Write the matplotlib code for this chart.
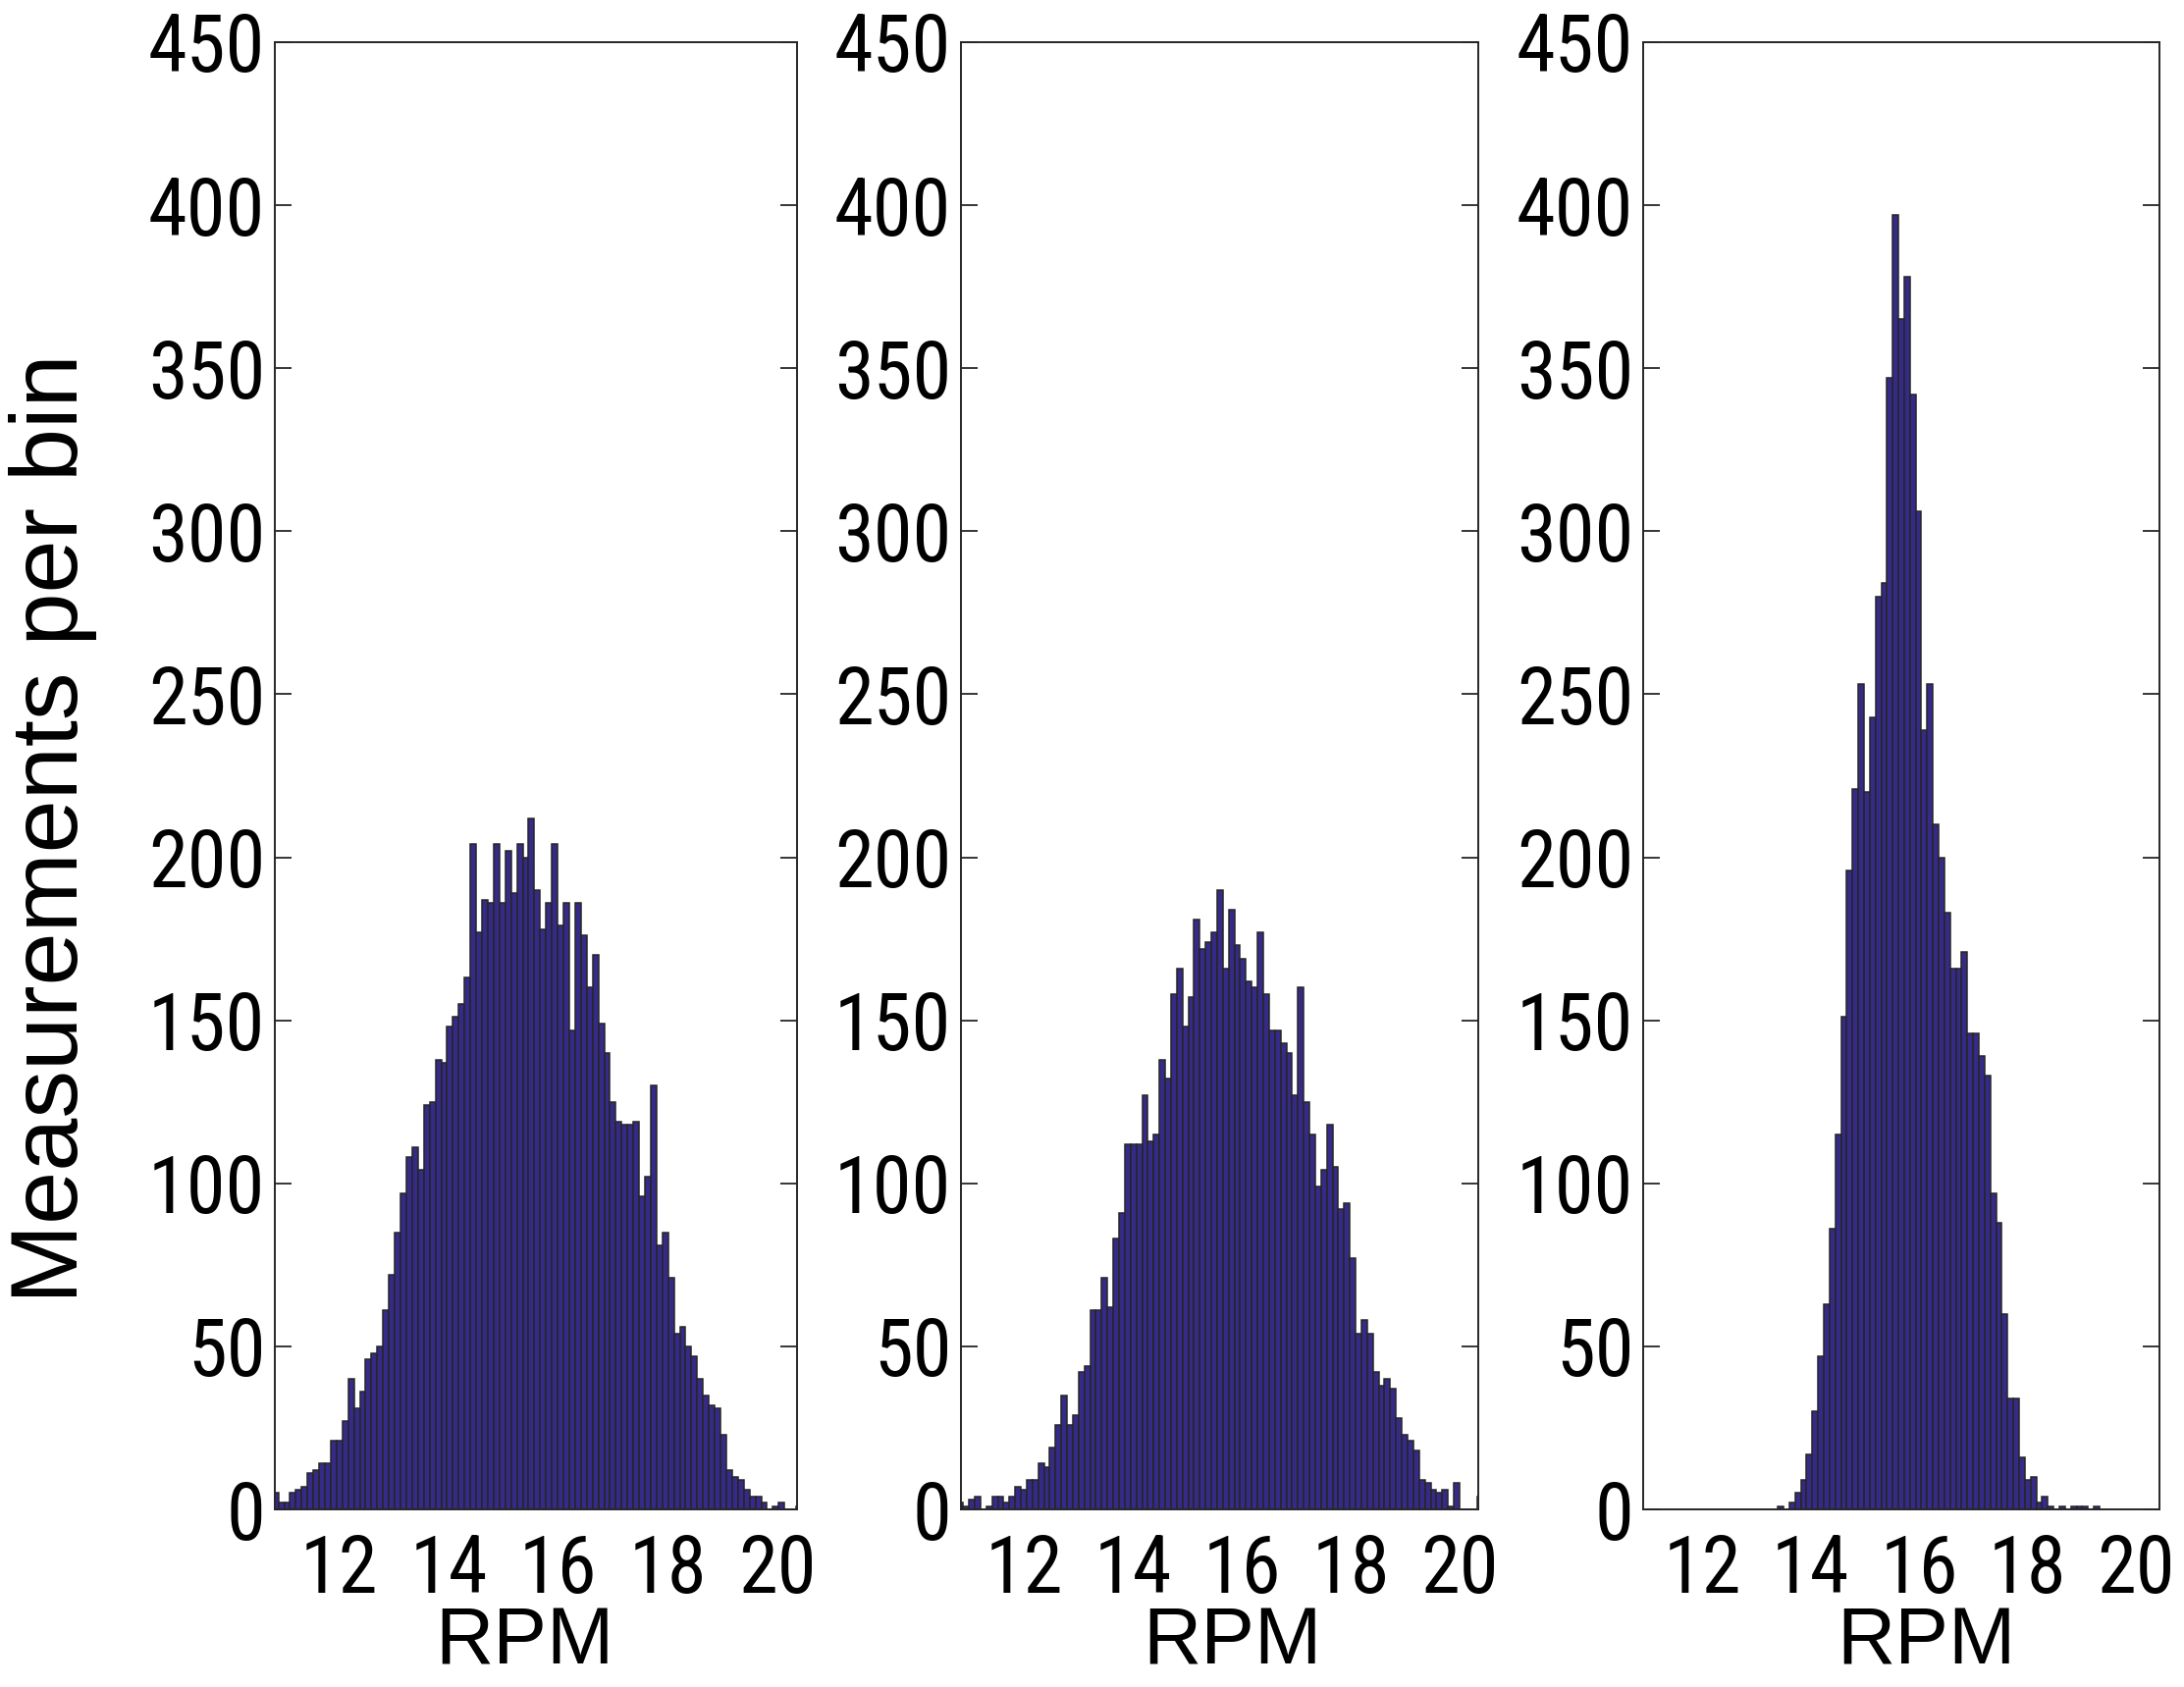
import numpy as np
import matplotlib
matplotlib.use("Agg")
import matplotlib.pyplot as plt
from matplotlib import font_manager as fm

# counts per bin (bin width in RPM)
bin_w = 0.106

p1_lo = 10.794
p1_counts = [5, 2, 2, 5, 6, 7, 11, 12, 14, 14,
             21, 21, 27, 40, 31, 36, 46, 48, 50, 61,
             72, 85, 97, 108, 111, 104, 124, 125, 138, 137,
             148, 151, 155, 163, 204, 177, 187, 186, 204, 186,
             202, 189, 204, 200, 212, 190, 178, 186, 204, 179,
             186, 147, 186, 176, 160, 170, 149, 140, 125, 119,
             118, 118, 119, 96, 102, 130, 81, 85, 71, 54,
             56, 50, 47, 40, 35, 32, 31, 23, 12, 10,
             9, 6, 4, 4, 2, 0, 1, 2, 0, 0,
             1]

p2_lo = 10.774
p2_counts = [2, 1, 3, 4, 0, 1, 4, 4, 2, 4,
             7, 6, 9, 9, 14, 13, 19, 26, 35, 26,
             29, 42, 44, 61, 61, 71, 62, 83, 91, 112,
             112, 112, 127, 113, 115, 138, 132, 158, 166, 148,
             157, 181, 172, 174, 177, 190, 166, 184, 173, 169,
             162, 160, 177, 158, 147, 147, 143, 140, 127, 160,
             125, 115, 99, 104, 118, 105, 92, 94, 77, 54,
             58, 54, 42, 38, 40, 37, 28, 23, 21, 18,
             9, 8, 6, 5, 6, 1, 8, 0, 0, 0,
             4]

p3_lo = 13.39
p3_counts = [1, 0, 2, 5, 9, 17, 30, 47, 63, 86,
             115, 151, 196, 221, 253, 220, 243, 280, 284, 347,
             397, 365, 378, 342, 306, 239, 253, 210, 200, 183,
             166, 166, 171, 146, 146, 139, 133, 97, 88, 60,
             34, 34, 16, 9, 10, 2, 4, 1, 0, 1,
             0, 1, 1, 1, 0, 1]

x_limits = [(10.836, 20.35), (10.84, 20.34), (10.908, 20.43)]
x_ticks = [12, 14, 16, 18, 20]
y_ticks = list(range(0, 451, 50))

# the tick numbers in the original are a narrow sans; use one if it exists
names = {f.name for f in fm.fontManager.ttflist}
tick_font, tick_size, tick_stretch = "Liberation Sans", 54, "normal"
for cand in ["Liberation Sans Narrow", "Arial Narrow", "Roboto Condensed",
             "Open Sans Condensed", "Noto Sans Condensed", "DejaVu Sans Condensed"]:
    if cand in names:
        tick_font, tick_size = cand, 58
        break
else:
    condensed = [f for f in fm.fontManager.ttflist
                 if f.name in ("DejaVu Sans", "Noto Sans", "Open Sans")
                 and f.stretch in ("condensed", "semi-condensed", "extra-condensed")
                 and f.style == "normal"]
    if condensed:
        tick_font, tick_size, tick_stretch = condensed[0].name, 55, condensed[0].stretch
label_font = "Liberation Sans" if "Liberation Sans" in names else "DejaVu Sans"

bar_color = (0.2081, 0.1663, 0.5292)
edge_color = "#262626"

fig = plt.figure(figsize=(22.25, 17.19), dpi=100)

# axes boxes measured in pixels: left, right
boxes = [(280, 812), (979, 1506), (1674, 2200)]
top_px, bot_px = 43, 1538
label_x = [0.479, 0.524, 0.548]

panels = [(p1_lo, p1_counts), (p2_lo, p2_counts), (p3_lo, p3_counts)]

for i, (lo, counts) in enumerate(panels):
    l, r = boxes[i]
    ax = fig.add_axes([l / 2225, 1 - bot_px / 1719, (r - l) / 2225, (bot_px - top_px) / 1719])
    centers = lo + bin_w * (np.arange(len(counts)) + 0.5)
    ax.bar(centers, counts, width=bin_w, color=bar_color,
           edgecolor=edge_color, linewidth=1.1)
    ax.set_xlim(*x_limits[i])
    ax.set_ylim(0, 450)
    ax.set_xticks(x_ticks)
    ax.set_yticks(y_ticks)
    ax.tick_params(axis="y", direction="in", length=12, width=1.3,
                   color=edge_color, left=True, right=True, pad=7)
    ax.tick_params(axis="x", length=0, pad=17)
    for lab in ax.get_xticklabels() + ax.get_yticklabels():
        lab.set_fontfamily(tick_font)
        lab.set_fontstretch(tick_stretch)
        lab.set_fontsize(tick_size)
    for sp in ax.spines.values():
        sp.set_color(edge_color)
        sp.set_linewidth(1.4)
    ax.set_xlabel("RPM", fontsize=59, family=label_font)
    ax.xaxis.set_label_coords(label_x[i], -0.0916)
    ax.xaxis.label.set_va("center")

fig.text(54 / 2225, 1 - 844 / 1719, "Measurements per bin", rotation=90,
         ha="center", va="center", fontsize=70, family=label_font)

fig.savefig("out.png", dpi=100)
